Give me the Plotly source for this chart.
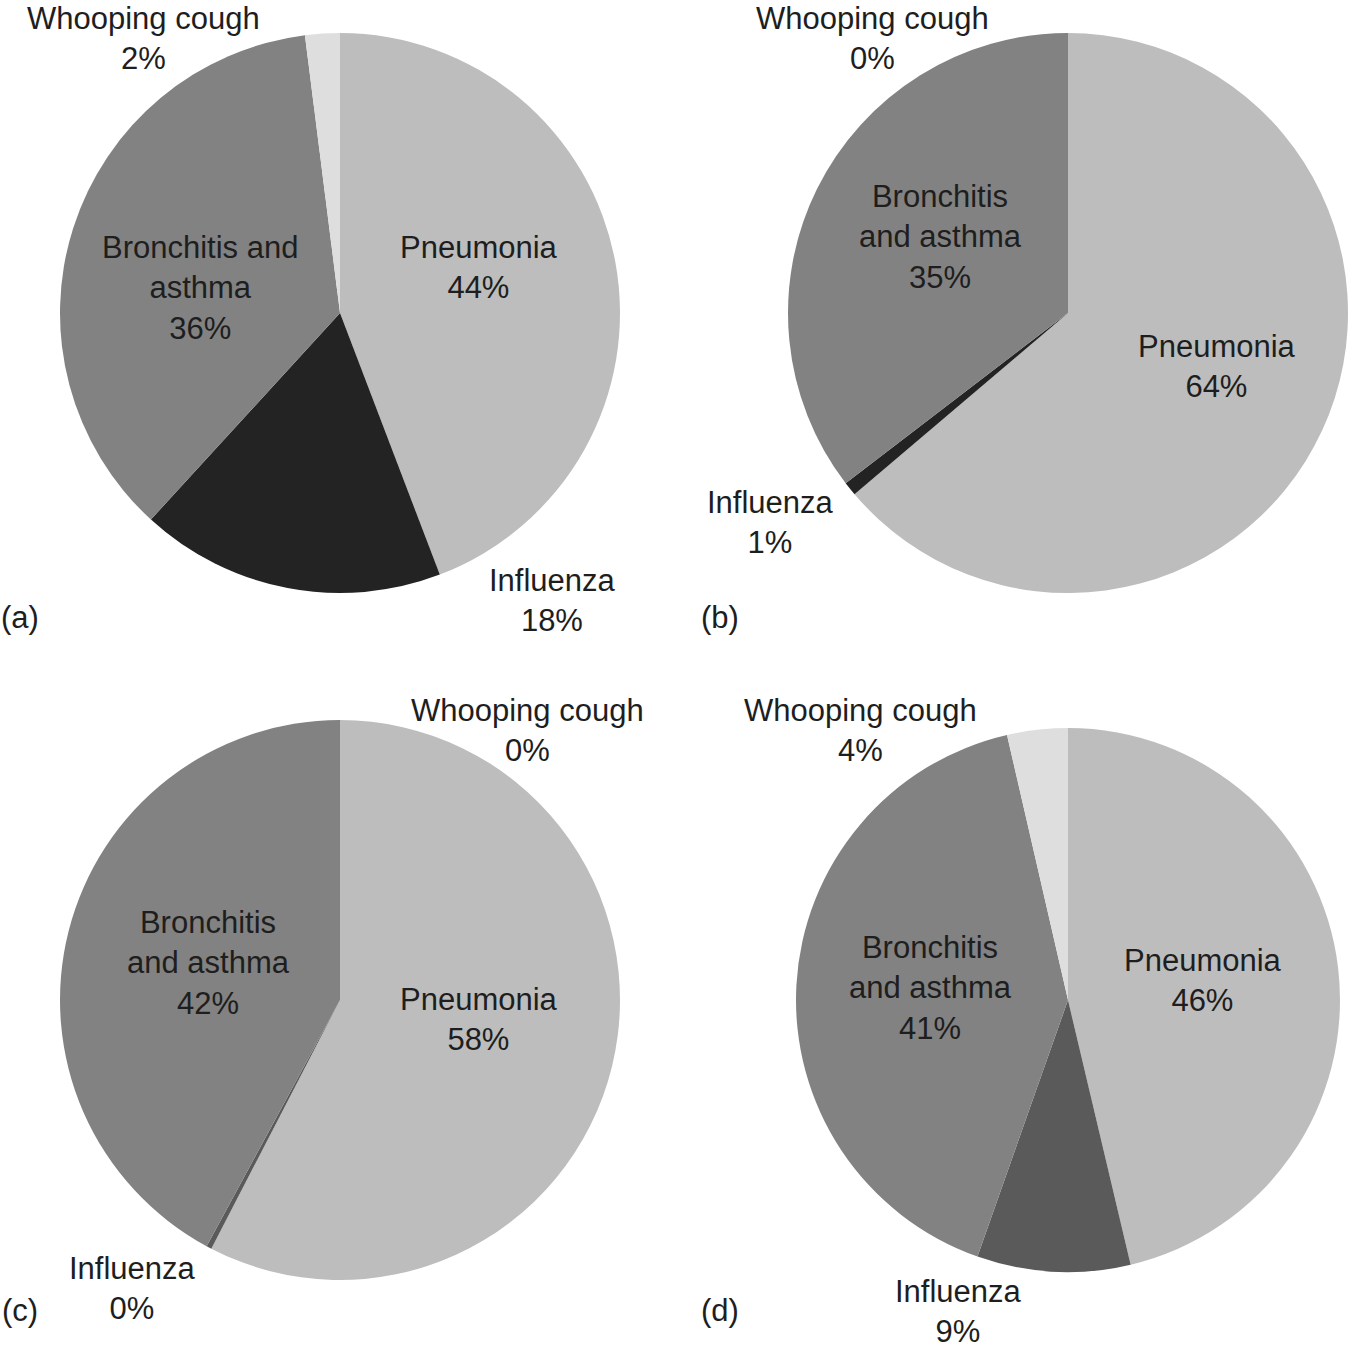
import plotly.graph_objects as go

W, H = 1349, 1351

categories = ["Pneumonia", "Influenza", "Bronchitis and asthma", "Whooping cough"]
colors = ["#bdbdbd", "#232323", "#828282", "#dedede"]
colors_cd = ["#bdbdbd", "#5a5a5a", "#828282", "#dedede"]

values_a = [44.2, 17.6, 36.2, 2.0]
values_b = [63.8, 0.8, 35.4, 0.0]
values_c = [57.6, 0.3, 42.1, 0.0]
values_d = [46.3, 9.1, 41.0, 3.6]

panel_letters = ["(a)", "(b)", "(c)", "(d)"]

# label names per panel (line breaks as in the original)
names_a = ["Pneumonia", "Influenza", "Bronchitis and<br>asthma", "Whooping cough"]
names_bcd = ["Pneumonia", "Influenza", "Bronchitis<br>and asthma", "Whooping cough"]

# pixel domains [x0, x1, y0(top), y1(bottom)]
domains = [(60, 620, 33, 593), (788, 1348, 33, 593), (60, 620, 720, 1280), (796, 1340, 728, 1272)]

# label centre positions in pixels, per panel, per category
label_pos = [
    [(479, 268), (552, 600), (200, 288), (143, 38)],
    [(1217, 366), (771, 522), (940, 237), (872, 38)],
    [(479, 1019), (132, 1288), (208, 963), (527, 730)],
    [(1203, 980), (958, 1311), (930, 988), (860, 730)],
]
letter_pos = [(20, 617), (720, 617), (20, 1310), (720, 1310)]

all_values = [values_a, values_b, values_c, values_d]
all_names = [names_a, names_bcd, names_bcd, names_bcd]
all_colors = [colors, colors, colors_cd, colors_cd]

fig = go.Figure()
annotations = []
font = dict(family="Liberation Sans, Arial, sans-serif", size=31, color="#1e1e1e")

for i, vals in enumerate(all_values):
    x0, x1, y0, y1 = domains[i]
    fig.add_trace(go.Pie(
        labels=categories, values=vals, sort=False, direction="clockwise",
        rotation=0, textinfo="none", hoverinfo="label+percent",
        marker=dict(colors=all_colors[i], line=dict(width=0)),
        domain=dict(x=[x0 / W, x1 / W], y=[1 - y1 / H, 1 - y0 / H]),
        showlegend=False,
    ))
    for j, v in enumerate(vals):
        px, py = label_pos[i][j]
        annotations.append(dict(
            x=px / W, y=1 - py / H, xref="paper", yref="paper",
            text=f"{all_names[i][j]}<br>{round(v)}%", showarrow=False,
            xanchor="center", yanchor="middle", font=font, align="center",
        ))
    lx, ly = letter_pos[i]
    annotations.append(dict(
        x=lx / W, y=1 - ly / H, xref="paper", yref="paper", text=panel_letters[i],
        showarrow=False, xanchor="center", yanchor="middle", font=font,
    ))

fig.update_layout(
    width=W, height=H, margin=dict(l=0, r=0, t=0, b=0),
    paper_bgcolor="white", plot_bgcolor="white",
    annotations=annotations,
)

fig.write_html("out.html", config={"displayModeBar": False},
               post_script="document.body.style.margin='0';")
